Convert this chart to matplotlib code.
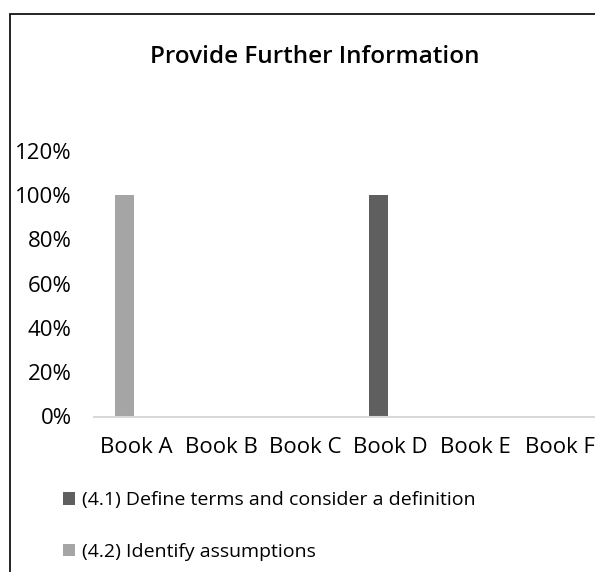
import matplotlib
matplotlib.use("Agg")
import matplotlib.pyplot as plt
from matplotlib.patches import Rectangle
from matplotlib.ticker import PercentFormatter
import numpy as np

categories = ["Book A", "Book B", "Book C", "Book D", "Book E", "Book F"]
series_names = ["(4.1) Define terms and consider a definition", "(4.2) Identify assumptions"]
define_terms = [0.0, 0.0, 0.0, 1.0, 0.0, 0.0]
identify_assumptions = [1.0, 0.0, 0.0, 0.0, 0.0, 0.0]
y_ticks = [0.0, 0.2, 0.4, 0.6, 0.8, 1.0, 1.2]
title = "Provide Further Information"

plt.rcParams['font.family'] = ['Open Sans', 'DejaVu Sans']

W, H = 595, 572
fig = plt.figure(figsize=(W / 100, H / 100), dpi=100)

# outer chart frame (clipped on right and bottom)
fig.patches.append(Rectangle((9.5 / W, -0.1), 1.2, (H - 13.5) / H + 0.1,
                             transform=fig.transFigure, fill=False,
                             edgecolor="#000000", linewidth=1.2))

ax = fig.add_axes([94 / W, (H - 416.5) / H, 508 / W, 265.8 / H])

x = np.arange(len(categories))
off = -0.14
bw = 0.224
b1 = ax.bar(x + off, define_terms, width=bw, color="#5f5f5f", label=series_names[0], zorder=2)
b2 = ax.bar(x + off, identify_assumptions, width=bw, color="#a5a5a5", label=series_names[1], zorder=2)

ax.set_xlim(-0.5, len(categories) - 0.5)
ax.set_ylim(0, 1.2)
ax.set_yticks(y_ticks)
ax.yaxis.set_major_formatter(PercentFormatter(1.0, decimals=0))
ax.set_xticks(x)
ax.set_xticklabels(categories)
ax.tick_params(axis='both', length=0, labelsize=16, labelcolor="#000000")
ax.tick_params(axis='y', pad=16)
ax.tick_params(axis='x', pad=15)
for s in ["top", "right", "left"]:
    ax.spines[s].set_visible(False)
ax.spines["bottom"].set_color("#d9d9d9")
ax.spines["bottom"].set_linewidth(1.5)
ax.spines["bottom"].set_zorder(3)

fig.text(315 / W, (H - 63) / H, title, ha="center", va="baseline",
         fontsize=17.5, fontweight="semibold", color="#000000")

leg = fig.legend(handles=[b1, b2], labels=series_names, loc="upper left",
                 bbox_to_anchor=(63 / W, (H - 491.5) / H), frameon=False,
                 fontsize=14, handlelength=0.62, handleheight=0.6,
                 handletextpad=0.36, labelspacing=1.72, borderpad=0,
                 borderaxespad=0)

fig.savefig("out.png", dpi=100)
